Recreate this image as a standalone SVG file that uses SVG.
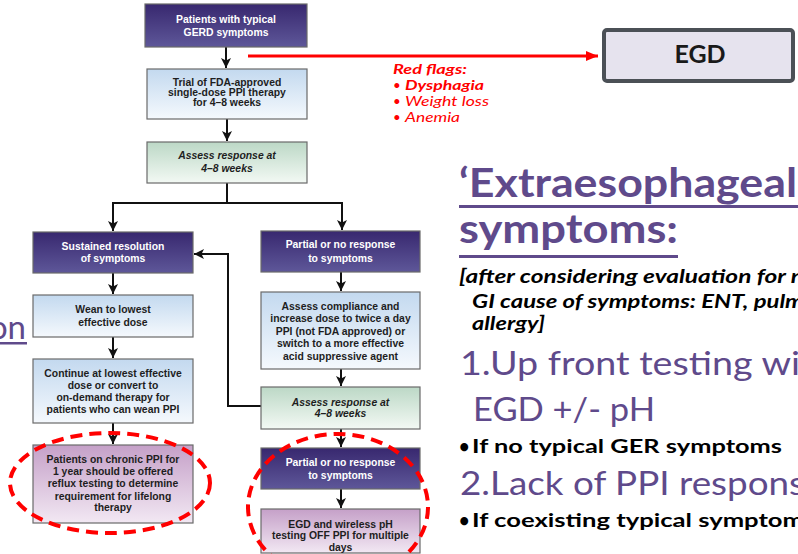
<svg xmlns="http://www.w3.org/2000/svg" width="798" height="554" viewBox="0 0 798 554">
<defs>
<linearGradient id="gPurple" x1="0" y1="0" x2="0" y2="1"><stop offset="0" stop-color="#38286f"/><stop offset="1" stop-color="#5e5799"/></linearGradient>
<linearGradient id="gBlue" x1="0" y1="0" x2="0" y2="1"><stop offset="0" stop-color="#c3d9ef"/><stop offset="1" stop-color="#f5f9fd"/></linearGradient>
<linearGradient id="gGreen" x1="0" y1="0" x2="0" y2="1"><stop offset="0" stop-color="#bcd8c6"/><stop offset="1" stop-color="#f3f9f4"/></linearGradient>
<linearGradient id="gPink" x1="0" y1="0" x2="0" y2="1"><stop offset="0" stop-color="#c5a0c8"/><stop offset="1" stop-color="#f2e8f3"/></linearGradient>
<marker id="ah" markerUnits="userSpaceOnUse" markerWidth="12" markerHeight="12" refX="10" refY="5" orient="auto"><path d="M0,0 L10,5 L0,10 L2.5,5 z" fill="#111"/></marker>
<marker id="ahr" markerUnits="userSpaceOnUse" markerWidth="14" markerHeight="14" refX="12" refY="5" orient="auto"><path d="M0,0 L12,5 L0,10 z" fill="#ff0000"/></marker>
</defs>
<style>
.box{stroke:#6a6a6a;stroke-width:1.2}
.p{fill:url(#gPurple)}
.b{fill:url(#gBlue)}
.g{fill:url(#gGreen)}
.k{fill:url(#gPink)}
.t{font-family:"Liberation Sans",Arial,sans-serif;font-weight:bold;font-size:10.4px;text-anchor:middle}
.w{fill:#ffffff}
.d{fill:#1e1e1e}
.i{font-style:italic}
.conn{fill:none;stroke:#111;stroke-width:2}
.ell{fill:none;stroke:#ff0000;stroke-width:4;stroke-dasharray:12 7}
.rf{font-family:Lato,"Open Sans",sans-serif;font-style:italic;font-size:13.3px;fill:#ff0000}
.ttl{font-family:Lato,"Noto Sans",sans-serif;fill:#5f4a8b}
.blk{font-family:Lato,"Noto Sans",sans-serif;fill:#000;font-weight:bold}
</style>

<g id="connectors">
<path class="conn" d="M226,47 V68" marker-end="url(#ah)"/>
<path class="conn" d="M227,119 V141" marker-end="url(#ah)"/>
<path class="conn" d="M227,183 V203 H113 V231" marker-end="url(#ah)"/>
<path class="conn" d="M227,203 H342 V230" marker-end="url(#ah)"/>
<path class="conn" d="M113,273 V294" marker-end="url(#ah)"/>
<path class="conn" d="M113,337 V358" marker-end="url(#ah)"/>
<path class="conn" d="M113,423 V444" marker-end="url(#ah)"/>
<path class="conn" d="M341,272 V291" marker-end="url(#ah)"/>
<path class="conn" d="M341,369 V386" marker-end="url(#ah)"/>
<path class="conn" d="M341,429 V447" marker-end="url(#ah)"/>
<path class="conn" d="M341,489 V508" marker-end="url(#ah)"/>
<path class="conn" d="M261,406 H228 V254 H194" marker-end="url(#ah)"/>
<path d="M248,56 H598" fill="none" stroke="#ff0000" stroke-width="3" marker-end="url(#ahr)"/>
</g>

<g id="n1"><rect class="box p" x="145" y="4" width="162" height="43"/>
<text class="t w" x="226" y="23">Patients with typical</text><text class="t w" x="226" y="36">GERD symptoms</text></g>

<g id="n2"><rect class="box b" x="147" y="69" width="160" height="50"/>
<text class="t d" x="227" y="85.5">Trial of FDA-approved</text><text class="t d" x="227" y="95.5">single-dose PPI therapy</text><text class="t d" x="227" y="105.5">for 4–8 weeks</text></g>

<g id="n3"><rect class="box g" x="147" y="142" width="160" height="41"/>
<text class="t d i" x="227" y="159">Assess response at</text><text class="t d i" x="227" y="172">4–8 weeks</text></g>

<g id="n4"><rect class="box p" x="33" y="232" width="160" height="41"/>
<text class="t w" x="113" y="250">Sustained resolution</text><text class="t w" x="113" y="262">of symptoms</text></g>

<g id="n5"><rect class="box p" x="261" y="231" width="159" height="41"/>
<text class="t w" x="340.5" y="248">Partial or no response</text><text class="t w" x="340.5" y="262">to symptoms</text></g>

<g id="n6"><rect class="box b" x="33" y="295" width="160" height="42"/>
<text class="t d" x="113" y="313">Wean to lowest</text><text class="t d" x="113" y="326">effective dose</text></g>

<g id="n7"><rect class="box b" x="33" y="359" width="160" height="64"/>
<text class="t d" x="113" y="377">Continue at lowest effective</text><text class="t d" x="113" y="389">dose or convert to</text><text class="t d" x="113" y="401">on-demand therapy for</text><text class="t d" x="113" y="413">patients who can wean PPI</text></g>

<g id="n8"><rect class="box k" x="33" y="445" width="160" height="78"/>
<text class="t d" x="113" y="463">Patients on chronic PPI for</text><text class="t d" x="113" y="475">1 year should be offered</text><text class="t d" x="113" y="487">reflux testing to determine</text><text class="t d" x="113" y="500">requirement for lifelong</text><text class="t d" x="113" y="511">therapy</text></g>

<g id="n9"><rect class="box b" x="261" y="292" width="159" height="77"/>
<text class="t d" x="340.5" y="310">Assess compliance and</text><text class="t d" x="340.5" y="322">increase dose to twice a day</text><text class="t d" x="340.5" y="335">PPI (not FDA approved) or</text><text class="t d" x="340.5" y="347">switch to a more effective</text><text class="t d" x="340.5" y="360">acid suppressive agent</text></g>

<g id="n10"><rect class="box g" x="261" y="387" width="159" height="42"/>
<text class="t d i" x="340.5" y="406">Assess response at</text><text class="t d i" x="340.5" y="417">4–8 weeks</text></g>

<g id="n11"><rect class="box p" x="261" y="448" width="159" height="41"/>
<text class="t w" x="340.5" y="466">Partial or no response</text><text class="t w" x="340.5" y="479">to symptoms</text></g>

<g id="n12"><rect class="box k" x="261" y="509" width="159" height="44"/>
<text class="t d" x="340.5" y="528">EGD and wireless pH</text><text class="t d" x="340.5" y="539">testing OFF PPI for multiple</text><text class="t d" x="340.5" y="551">days</text></g>

<g id="egd"><rect x="604" y="30" width="189" height="51" rx="3" fill="#e6e3ee" stroke="#4b5056" stroke-width="4"/>
<text x="700" y="63" font-family="Lato,'Liberation Sans',sans-serif" font-weight="bold" font-size="25" fill="#1a1a1a" text-anchor="middle">EGD</text></g>

<g id="highlights">
<ellipse class="ell" cx="110" cy="483" rx="100" ry="50"/>
<ellipse class="ell" cx="338" cy="507" rx="90" ry="73"/>
</g>

<g id="redflags">
<text class="rf" x="393" y="74" font-weight="bold" textLength="74" lengthAdjust="spacingAndGlyphs">Red flags:</text>
<text class="rf" x="393" y="90"><tspan font-style="normal">•</tspan><tspan x="405" font-weight="bold" textLength="79" lengthAdjust="spacingAndGlyphs">Dysphagia</tspan></text>
<text class="rf" x="393" y="106"><tspan font-style="normal">•</tspan><tspan x="405" textLength="84" lengthAdjust="spacingAndGlyphs">Weight loss</tspan></text>
<text class="rf" x="393" y="122"><tspan font-style="normal">•</tspan><tspan x="405" textLength="55" lengthAdjust="spacingAndGlyphs">Anemia</tspan></text>
</g>

<g id="sidetext">
<text class="ttl" x="26" y="339" font-size="33" text-anchor="end">on</text>
<rect x="0" y="342" width="27" height="2.5" fill="#5f4a8b"/>
<text class="ttl" x="459" y="197" font-size="40" font-weight="bold" textLength="338" lengthAdjust="spacingAndGlyphs">‘Extraesophageal</text>
<rect x="459" y="205" width="339" height="3" fill="#5f4a8b"/>
<text class="ttl" x="459" y="243" font-size="40" font-weight="bold" textLength="219" lengthAdjust="spacingAndGlyphs">symptoms:</text>
<rect x="459" y="255" width="219" height="3" fill="#5f4a8b"/>
<text class="blk" x="459" y="283" font-size="18" font-style="italic" textLength="345" lengthAdjust="spacingAndGlyphs">[after considering evaluation for n</text>
<text class="blk" x="472" y="308" font-size="18" font-style="italic" textLength="332" lengthAdjust="spacingAndGlyphs">GI cause of symptoms: ENT, pulm</text>
<text class="blk" x="472" y="330" font-size="18" font-style="italic" textLength="73" lengthAdjust="spacingAndGlyphs">allergy]</text>
<text class="ttl" x="460" y="375" font-size="33" textLength="340" lengthAdjust="spacingAndGlyphs">1.Up front testing wi</text>
<text class="ttl" x="473" y="421" font-size="33" textLength="182" lengthAdjust="spacingAndGlyphs">EGD +/- pH</text>
<text class="blk" x="459" y="453" font-size="18">•<tspan x="472" textLength="310" lengthAdjust="spacingAndGlyphs">If no typical GER symptoms</tspan></text>
<text class="ttl" x="460" y="495" font-size="33" textLength="345" lengthAdjust="spacingAndGlyphs">2.Lack of PPI respons</text>
<text class="blk" x="459" y="527" font-size="18">•<tspan x="472" textLength="332" lengthAdjust="spacingAndGlyphs">If coexisting typical symptom</tspan></text>
</g>
</svg>
